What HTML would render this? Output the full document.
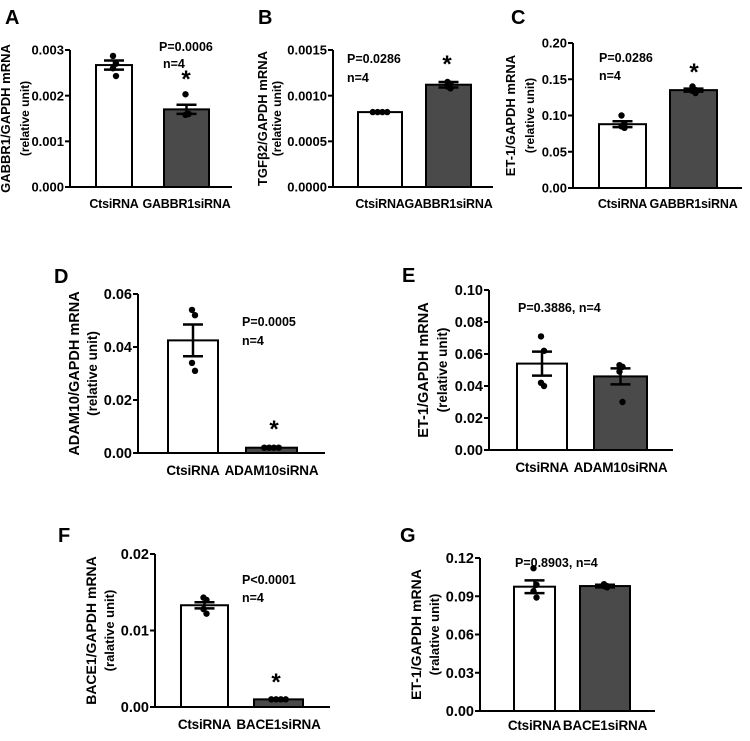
<!DOCTYPE html>
<html><head><meta charset="utf-8"><style>
html,body{margin:0;padding:0;background:#fff;overflow:hidden;}
svg{display:block;font-family:"Liberation Sans",Arial,sans-serif;}
</style></head><body>
<svg id="fig" width="750" height="741" viewBox="0 0 750 741"></svg>
<script>
const categoriesA=["CtsiRNA","GABBR1siRNA"];
const meansA=[0.00267,0.00170];
const semA=[0.0001,0.0001];
const ptsA=[[0.00287,0.0027,0.0026,0.00243],[0.00203,0.0016,0.00158,0.0016]];
const ticksA=["0.000","0.001","0.002","0.003"];

const categoriesB=["CtsiRNA","GABBR1siRNA"];
const meansB=[0.00082,0.00112];
const semB=[0.000005,0.00003];
const ptsB=[[0.00082,0.00082,0.00082,0.00082],[0.00115,0.00113,0.0011,0.00108]];
const ticksB=["0.0000","0.0005","0.0010","0.0015"];

const categoriesC=["CtsiRNA","GABBR1siRNA"];
const meansC=[0.088,0.135];
const semC=[0.004,0.002];
const ptsC=[[0.1,0.088,0.085,0.083],[0.14,0.135,0.134,0.131]];
const ticksC=["0.00","0.05","0.10","0.15","0.20"];

const categoriesD=["CtsiRNA","ADAM10siRNA"];
const meansD=[0.0425,0.002];
const semD=[0.006,0.0003];
const ptsD=[[0.054,0.052,0.034,0.031],[0.002,0.002,0.002,0.002]];
const ticksD=["0.00","0.02","0.04","0.06"];

const categoriesE=["CtsiRNA","ADAM10siRNA"];
const meansE=[0.054,0.046];
const semE=[0.0075,0.005];
const ptsE=[[0.071,0.062,0.042,0.040],[0.053,0.052,0.049,0.030]];
const ticksE=["0.00","0.02","0.04","0.06","0.08","0.10"];

const categoriesF=["CtsiRNA","BACE1siRNA"];
const meansF=[0.0133,0.001];
const semF=[0.0004,0.00005];
const ptsF=[[0.0143,0.014,0.0128,0.0122],[0.001,0.001,0.001,0.001]];
const ticksF=["0.00","0.01","0.02"];

const categoriesG=["CtsiRNA","BACE1siRNA"];
const meansG=[0.0975,0.098];
const semG=[0.005,0.001];
const ptsG=[[0.112,0.099,0.094,0.089],[0.0995,0.098,0.098,0.097]];
const ticksG=["0.00","0.03","0.06","0.09","0.12"];

const NS="http://www.w3.org/2000/svg";
const svg=document.getElementById("fig");
function mk(tag,attrs,parent,text){const e=document.createElementNS(NS,tag);for(const k in attrs)e.setAttribute(k,attrs[k]);if(text!==undefined)e.textContent=text;(parent||svg).appendChild(e);return e;}

const panels=[
 {id:"a",letter:"A",lx:5,ly:24,ax:70,top:50,zero:187,xend:232,bars:[[96,132],[164,209]],max:0.003,cats:categoriesA,means:meansA,sem:semA,pts:ptsA,ticks:ticksA,
  t1:"GABBR1/GAPDH mRNA",t2:"(relative unit)",to:[-60,-41],fs:13,tf:13,ts:12.5,xb:208,ann:[["P=0.0006",159,51],["n=4",163,68]],star:[186,75]},
 {id:"b",letter:"B",lx:258,ly:24,ax:333,top:50,zero:187,xend:493,bars:[[358,402],[426,471]],max:0.0015,cats:categoriesB,means:meansB,sem:semB,pts:ptsB,ticks:ticksB,
  t1:"TGF\u03B22/GAPDH mRNA",t2:"(relative unit)",to:[-66,-52],fs:13,tf:13,ts:12.5,xb:208,ann:[["P=0.0286",347,63],["n=4",347,82]],star:[447,60]},
 {id:"c",letter:"C",lx:511,ly:24,ax:573,top:43,zero:188,xend:742,bars:[[599,646],[670,717]],max:0.2,cats:categoriesC,means:meansC,sem:semC,pts:ptsC,ticks:ticksC,
  t1:"ET-1/GAPDH mRNA",t2:"(relative unit)",to:[-58,-39],fs:13,tf:13,ts:12.5,xb:208,ann:[["P=0.0286",599,62],["n=4",599,80]],star:[694,68]},
 {id:"d",letter:"D",lx:54,ly:283,ax:138,top:294,zero:453,xend:325,bars:[[168,218],[246,297]],max:0.06,cats:categoriesD,means:meansD,sem:semD,pts:ptsD,ticks:ticksD,
  t1:"ADAM10/GAPDH mRNA",t2:"(relative unit)",to:[-59,-41],fs:14.5,tf:14.5,ts:13.5,xb:475,ann:[["P=0.0005",242,326],["n=4",242,345]],star:[274,425]},
 {id:"e",letter:"E",lx:402,ly:282,ax:489,top:290,zero:450,xend:673,bars:[[517,567],[594,647]],max:0.1,cats:categoriesE,means:meansE,sem:semE,pts:ptsE,ticks:ticksE,
  t1:"ET-1/GAPDH mRNA",t2:"(relative unit)",to:[-61,-42],fs:14.5,tf:14.5,ts:13.5,xb:472,ann:[["P=0.3886, n=4",518,312]],star:null},
 {id:"f",letter:"F",lx:58,ly:542,ax:155,top:554,zero:707,xend:330,bars:[[181,228],[254,303]],max:0.02,cats:categoriesF,means:meansF,sem:semF,pts:ptsF,ticks:ticksF,
  t1:"BACE1/GAPDH mRNA",t2:"(ralative unit)",to:[-59,-41],fs:14.5,tf:14,ts:13.5,xb:729,ann:[["P<0.0001",242,584],["n=4",242,602]],star:[276,678]},
 {id:"g",letter:"G",lx:400,ly:542,ax:480,top:558,zero:711,xend:655,bars:[[514,555],[580,630]],max:0.12,cats:categoriesG,means:meansG,sem:semG,pts:ptsG,ticks:ticksG,
  t1:"ET-1/GAPDH mRNA",t2:"(ralative unit)",to:[-59,-41],fs:14.5,tf:14,ts:13.5,xb:730,ann:[["P=0.8903, n=4",515,567]],star:null}
];

panels.forEach(p=>{
  const g=mk("g",{});
  
  
  const y=v=>p.zero-(v/p.max)*(p.zero-p.top);
  const L=mk("text",{x:p.lx,y:p.ly,"font-size":20,"font-weight":"bold"},g,p.letter);
  
  
  const mid=(p.top+p.zero)/2;
  const x1=p.ax+p.to[0],x2=p.ax+p.to[1];
  const t1=mk("text",{x:x1,y:mid,"font-size":p.tf,"font-weight":"bold","text-anchor":"middle",transform:`rotate(-90 ${x1} ${mid})`},g,p.t1);
  
  
  const t2=mk("text",{x:x2,y:mid,"font-size":p.tf-1,"font-weight":"bold","text-anchor":"middle",transform:`rotate(-90 ${x2} ${mid})`},g,p.t2);
  
  
  p.means.forEach((m,i)=>{
    const [a,b2]=p.bars[i];
    const b=mk("rect",{x:a,y:y(m),width:b2-a,height:p.zero-y(m),fill:i?"#4a4a4a":"#fff",stroke:"#000","stroke-width":2},g);
    
    
  });
  const ya=mk("line",{x1:p.ax,y1:p.top,x2:p.ax,y2:p.zero,stroke:"#000","stroke-width":2},g);
  
  
  const xa=mk("line",{x1:p.ax-5,y1:p.zero,x2:p.xend,y2:p.zero,stroke:"#000","stroke-width":2},g);
  
  
  p.ticks.forEach(t=>{
    const yy=y(parseFloat(t));
    mk("line",{x1:p.ax-5,y1:yy,x2:p.ax,y2:yy,stroke:"#000","stroke-width":2},g);
    const tl=mk("text",{x:p.ax-6,y:yy+p.fs*0.36,"font-size":p.fs,"font-weight":"bold","text-anchor":"end"},g,t);
    
    
  });
  p.means.forEach((m,i)=>{
    const [a,b2]=p.bars[i];const cx=(a+b2)/2;
    mk("line",{x1:cx,y1:y(m+p.sem[i]),x2:cx,y2:y(m-p.sem[i]),stroke:"#000","stroke-width":2.5},g);
    mk("line",{x1:cx-10,y1:y(m+p.sem[i]),x2:cx+10,y2:y(m+p.sem[i]),stroke:"#000","stroke-width":2.5},g);
    mk("line",{x1:cx-10,y1:y(m-p.sem[i]),x2:cx+10,y2:y(m-p.sem[i]),stroke:"#000","stroke-width":2.5},g);
    const offs=[-6,-2,2,6];
    const flat=p.pts[i].every(q=>Math.abs(q-p.pts[i][0])<p.max*0.01);
    p.pts[i].forEach((v,k)=>{
      const pt=mk("circle",{cx:cx+(flat?offs[k]*1.2:(k%2?2:-1)),cy:y(v),r:3.2,fill:"#000"},g);
      
      
    });
    const xl=mk("text",{x:cx,y:p.xb,"font-size":p.ts,"font-weight":"bold","text-anchor":"middle","letter-spacing":"-0.2"},g,p.cats[i]);
    
    
  });
  p.ann.forEach(a=>{
    const at=mk("text",{x:a[1],y:a[2],"font-size":12.5,"font-weight":"bold"},g,a[0]);
    
    
  });
  if(p.star){
    const s=mk("text",{x:p.star[0],y:p.star[1]+12,"font-size":24,"font-weight":"bold","text-anchor":"middle"},g,"*");
    
    
  }
});
</script>
</body></html>
